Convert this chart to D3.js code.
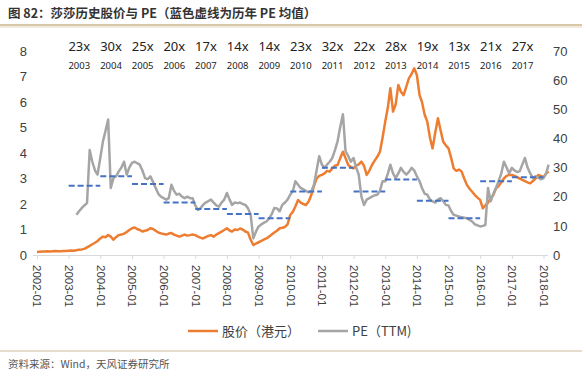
<!DOCTYPE html>
<html>
<head>
<meta charset="utf-8">
<script src="https://cdn.jsdelivr.net/npm/d3@7"></script>
<style>
  body { margin: 0; background: #fff; }
  svg { display: block; font-family: "Noto Sans", "Noto Sans CJK SC", sans-serif; }
</style>
</head>
<body>
<svg id="chart"></svg>
<script>
// monthly values
const priceStart = [2002, 0];
const price = [
  0.12,0.13,0.14,0.14,0.15,0.14,0.15,0.16,0.15,0.15,0.16,0.16,
  0.17,0.18,0.17,0.19,0.21,0.22,0.24,0.30,0.36,0.42,0.48,0.55,
  0.65,0.72,0.70,0.78,0.72,0.60,0.70,0.78,0.80,0.84,0.90,0.98,
  1.05,1.08,1.02,0.98,0.92,0.95,0.98,1.05,1.02,0.95,0.88,0.85,
  0.82,0.80,0.84,0.86,0.80,0.76,0.72,0.76,0.80,0.76,0.78,0.80,
  0.78,0.72,0.68,0.65,0.70,0.75,0.78,0.72,0.80,0.86,0.92,0.98,
  1.05,0.96,0.92,1.00,0.98,1.04,1.00,0.92,0.88,0.60,0.39,0.45,
  0.50,0.55,0.60,0.65,0.72,0.80,0.88,0.95,1.05,1.07,1.10,1.20,
  1.57,1.70,1.90,2.16,2.05,2.00,1.96,2.10,2.35,2.70,3.00,3.10,
  3.14,3.20,3.30,3.27,3.40,3.50,3.53,3.80,4.05,3.80,3.53,3.45,
  3.40,3.50,3.55,3.66,3.50,3.14,3.30,3.53,3.70,3.85,4.05,4.60,
  5.23,5.80,6.54,5.62,5.90,6.67,6.40,6.27,6.60,6.93,7.10,7.32,
  7.06,6.27,6.00,5.50,5.23,4.60,4.18,4.80,5.36,4.90,4.44,4.30,
  4.18,3.80,3.40,3.30,3.35,3.27,3.00,2.75,2.60,2.48,2.35,2.25,
  2.16,1.83,1.95,2.05,2.22,2.35,2.61,2.70,2.85,3.00,3.10,3.14,
  3.14,3.10,3.05,3.00,2.95,2.90,2.85,2.81,2.90,3.00,3.14,3.10,
  3.05,3.20,3.27
];

const peStart = [2003, 3];
const pe = [
  13.8,15.0,16.1,17.0,17.8,36.0,32.0,29.0,27.6,
  33.3,39.0,42.5,46.5,23.0,26.4,27.0,28.7,30.0,32.0,27.6,30.0,
  31.6,32.0,31.5,31.0,29.0,26.4,26.0,27.0,25.0,23.0,21.0,20.0,
  19.5,19.0,19.5,24.1,22.0,20.7,21.0,20.0,19.5,20.0,19.5,19.5,
  17.0,15.5,16.0,17.2,18.0,18.5,19.0,18.0,17.0,16.6,18.0,19.0,
  21.3,19.0,17.2,18.0,17.8,18.0,17.5,17.2,16.0,13.8,5.7,8.0,
  9.8,10.5,11.0,11.5,12.5,14.0,16.1,16.0,15.0,17.2,18.0,19.0,
  20.7,22.0,25.3,24.1,23.0,22.5,22.0,21.5,21.8,24.0,29.0,33.9,
  31.0,29.9,31.0,32.0,33.3,36.0,39.0,44.0,48.3,35.6,34.0,32.0,
  33.3,30.0,27.6,20.0,17.2,19.0,19.5,20.0,20.5,20.7,22.0,25.3,
  25.3,28.0,31.0,28.0,26.4,28.0,29.9,28.5,27.6,28.5,29.9,29.0,
  27.0,25.3,23.0,21.0,20.7,19.0,18.4,18.0,19.0,19.5,18.5,17.2,
  17.0,15.0,13.8,13.5,13.2,13.0,12.8,12.6,12.0,11.5,10.5,10.2,
  9.8,10.0,10.3,23.0,18.4,21.0,23.0,25.3,28.0,32.0,30.0,28.0,
  29.9,29.0,28.5,28.7,31.0,33.3,30.0,28.0,26.4,27.0,26.5,26.0,
  26.4,28.0,31.0
];

// yearly PE averages (blue dashes) and their labels
const avgYears = [2003,2004,2005,2006,2007,2008,2009,2010,2011,2012,2013,2014,2015,2016,2017];
const avgPE = [23.8,27.0,24.4,18.0,15.8,14.1,12.6,21.8,29.9,21.8,25.9,18.6,12.6,25.3,26.7];
const avgLabels = ["23x","30x","25x","20x","17x","14x","14x","23x","32x","22x","28x","19x","13x","21x","27x"];

const leftTicks = [0,1,2,3,4,5,6,7,8];
const rightTicks = [0,10,20,30,40,50,60,70];

const W = 582, H = 375;
const svg = d3.select("#chart").attr("width", W).attr("height", H);

const toDate = (start, i) => new Date(start[0], start[1] + i, 1);

const x = d3.scaleTime()
  .domain([new Date(2002, 0, 1), new Date(2018, 0, 1)])
  .range([37, 543.5]);
const yL = d3.scaleLinear().domain([0, 8]).range([255, 51]);
const yR = d3.scaleLinear().domain([0, 70]).range([255, 51]);

// title + rules
svg.append("text")
  .attr("x", 8).attr("y", 18)
  .attr("font-family", "'Noto Sans CJK SC', sans-serif")
  .attr("font-size", 12.5).attr("font-weight", "bold").attr("fill", "#333")
  .text("图 82：莎莎历史股价与 PE（蓝色虚线为历年 PE 均值）");
svg.append("rect").attr("x", 0).attr("y", 24).attr("width", W).attr("height", 2).attr("fill", "#d8c8a8");
svg.append("rect").attr("x", 0).attr("y", 26).attr("width", W).attr("height", 2).attr("fill", "#f1ebe0");
svg.append("rect").attr("x", 0).attr("y", 350).attr("width", W).attr("height", 2).attr("fill", "#e6dccb");

svg.append("text")
  .attr("x", 8).attr("y", 368)
  .attr("font-family", "'Noto Sans CJK SC', sans-serif")
  .attr("font-size", 10.5).attr("fill", "#555")
  .text("资料来源：Wind，天风证券研究所");

// x axis
const years = d3.range(2002, 2019).map(y => new Date(y, 0, 1));
const xAxis = svg.append("g")
  .attr("transform", "translate(0,255)")
  .call(d3.axisBottom(x).tickValues(years).tickSize(4).tickSizeOuter(0)
    .tickFormat(d3.timeFormat("%Y-%m")));
xAxis.select(".domain").attr("stroke", "#d9d9d9").attr("d", "M33,0.5H548");
xAxis.selectAll(".tick line").attr("stroke", "#d9d9d9");
xAxis.selectAll(".tick text")
  .attr("transform", "rotate(90)")
  .attr("x", 10).attr("y", 0).attr("dy", "0.35em")
  .attr("text-anchor", "start")
  .attr("font-size", 11.5).attr("fill", "#404040")
  .attr("font-family", "'Liberation Sans', Arial, sans-serif");

// left axis
const lAxis = svg.append("g").attr("transform", "translate(27,0)")
  .call(d3.axisLeft(yL).tickValues(leftTicks).tickSize(0).tickPadding(0));
lAxis.select(".domain").remove();
lAxis.selectAll("text").attr("font-size", 13).attr("fill", "#404040");

// right axis
const rAxis = svg.append("g").attr("transform", "translate(553,0)")
  .call(d3.axisRight(yR).tickValues(rightTicks).tickSize(0).tickPadding(0));
rAxis.select(".domain").remove();
rAxis.selectAll("text").attr("font-size", 13).attr("fill", "#404040");

// lines
const priceLine = d3.line()
  .x((d, i) => x(toDate(priceStart, i)))
  .y(d => yL(d));
const peLine = d3.line()
  .x((d, i) => x(toDate(peStart, i)))
  .y(d => yR(d));

svg.append("path").datum(price)
  .attr("d", priceLine).attr("fill", "none")
  .attr("stroke", "#ed7d31").attr("stroke-width", 2.5).attr("stroke-linejoin", "round");
svg.append("path").datum(pe)
  .attr("d", peLine).attr("fill", "none")
  .attr("stroke", "#a5a5a5").attr("stroke-width", 2.5).attr("stroke-linejoin", "round");

// average dashes
svg.selectAll(".avg").data(avgYears).enter().append("line")
  .attr("class", "avg")
  .attr("x1", d => x(new Date(d, 0, 1)))
  .attr("x2", d => x(new Date(d + 1, 0, 1)))
  .attr("y1", (d, i) => yR(avgPE[i]))
  .attr("y2", (d, i) => yR(avgPE[i]))
  .attr("stroke", "#4472c4").attr("stroke-width", 2)
  .attr("stroke-dasharray", "6,3");

// top labels
svg.selectAll(".mult").data(avgYears).enter().append("text")
  .attr("class", "mult")
  .attr("x", d => x(new Date(d, 6, 1)) - 5)
  .attr("y", 51)
  .attr("text-anchor", "middle")
  .attr("font-size", 13).attr("fill", "#222")
  .text((d, i) => avgLabels[i]);
svg.selectAll(".yr").data(avgYears).enter().append("text")
  .attr("class", "yr")
  .attr("x", d => x(new Date(d, 6, 1)) - 5)
  .attr("y", 69)
  .attr("text-anchor", "middle")
  .attr("font-size", 9.5).attr("fill", "#222")
  .text(d => d);

// legend
const legend = [
  { label: "股价（港元）", color: "#ed7d31", x: 188 },
  { label: "PE（TTM)", color: "#a5a5a5", x: 318 }
];
const lg = svg.selectAll(".lg").data(legend).enter().append("g")
  .attr("transform", d => "translate(" + d.x + ",331)");
lg.append("line").attr("x1", 0).attr("x2", 30)
  .attr("stroke", d => d.color).attr("stroke-width", 2.5);
lg.append("text").attr("x", 34).attr("dy", "0.35em")
  .attr("font-family", "'Noto Sans CJK SC', sans-serif")
  .attr("font-size", 13).attr("fill", "#404040")
  .text(d => d.label);
</script>
</body>
</html>
